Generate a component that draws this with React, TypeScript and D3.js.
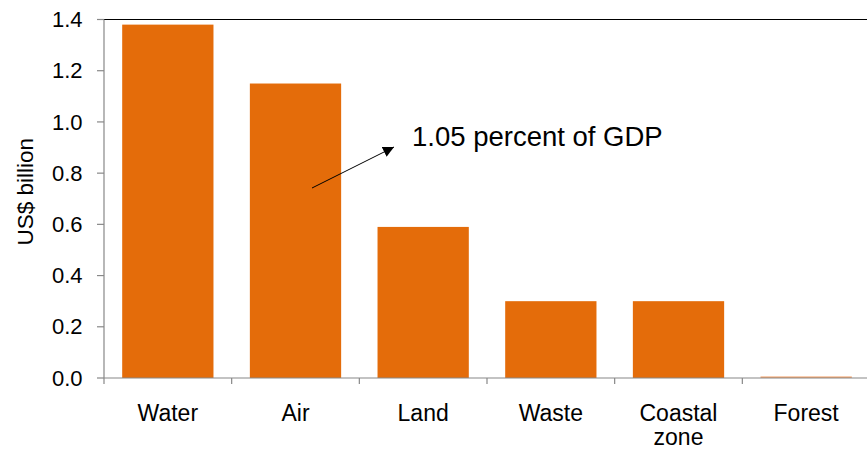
import React from "react";
import * as d3 from "d3";

const categories = ["Water", "Air", "Land", "Waste", "Coastal zone", "Forest"];
const values = [1.38, 1.15, 0.59, 0.3, 0.3, 0.006];
const yTicks = [0, 0.2, 0.4, 0.6, 0.8, 1.0, 1.2, 1.4];
const annotation = "1.05 percent of GDP";
const yLabel = "US$ billion";

const W = 867;
const H = 450;
const m = { left: 104, right: -3, top: 19.5, bottom: 72 };
const FONT = "'Liberation Sans', Arial, sans-serif";

export default function App() {
  const x = d3
    .scaleBand<string>()
    .domain(categories)
    .range([m.left, W - m.right])
    .paddingInner(0.285)
    .paddingOuter(0.1425);
  const xb = d3.scaleBand<string>().domain(categories).range([m.left, W - m.right]);
  const y = d3.scaleLinear().domain([0, 1.4]).range([H - m.bottom, m.top]);
  const y0 = y(0);

  return (
    <svg
      width={W}
      height={H}
      style={{ position: "absolute", left: 0, top: 0, background: "#fff" }}
      fontFamily={FONT}
    >
      <defs>
        <marker id="ah" viewBox="0 0 10 10" refX="10" refY="5" markerWidth="11" markerHeight="11" orient="auto" markerUnits="userSpaceOnUse">
          <path d="M0,0 L10,5 L0,10 z" fill="#000" />
        </marker>
      </defs>
      {/* top border */}
      <line x1={m.left} x2={W} y1={m.top} y2={m.top} stroke="#000" strokeWidth={1.2} />
      {categories.map((c, i) => (
        <rect
          key={c}
          x={x(c)}
          width={x.bandwidth()}
          y={y(values[i])}
          height={y0 - y(values[i])}
          fill={i === 5 ? "#f4a26a" : "#e46c0a"}
        />
      ))}
      {/* y axis */}
      <line x1={m.left} x2={m.left} y1={m.top} y2={y0} stroke="#888" strokeWidth={1.2} />
      {yTicks.map((t) => (
        <g key={t}>
          <line x1={m.left - 7} x2={m.left} y1={y(t)} y2={y(t)} stroke="#888" strokeWidth={1.2} />
          <text x={82.5} y={y(t)} dy="0.35em" textAnchor="end" fontSize={22} fill="#000">
            {t.toFixed(1)}
          </text>
        </g>
      ))}
      <text
        transform={`translate(25.5,${(m.top + y0) / 2 - 7}) rotate(-90)`}
        textAnchor="middle"
        dy="0.35em"
        fontSize={22.5}
        fill="#000"
      >
        {yLabel}
      </text>
      {/* x axis */}
      <line x1={m.left} x2={W} y1={y0} y2={y0} stroke="#888" strokeWidth={1.2} />
      {categories.map((c) => (
        <line key={c} x1={xb(c)} x2={xb(c)} y1={y0} y2={y0 + 6} stroke="#888" strokeWidth={1.2} />
      ))}
      {categories.map((c) => {
        const parts = c === "Coastal zone" ? ["Coastal", "zone"] : [c];
        const cx = (xb(c) as number) + xb.bandwidth() / 2;
        return (
          <text key={c} x={cx} y={420.5} textAnchor="middle" fontSize={23} fill="#000">
            {parts.map((p, k) => (
              <tspan key={k} x={cx} dy={k === 0 ? 0 : 24.5}>
                {p}
              </tspan>
            ))}
          </text>
        );
      })}
      {/* annotation */}
      <line x1={312} y1={188} x2={394} y2={147} stroke="#000" strokeWidth={1} markerEnd="url(#ah)" />
      <text x={412} y={145.5} fontSize={27.5} fill="#000">
        {annotation}
      </text>
    </svg>
  );
}
